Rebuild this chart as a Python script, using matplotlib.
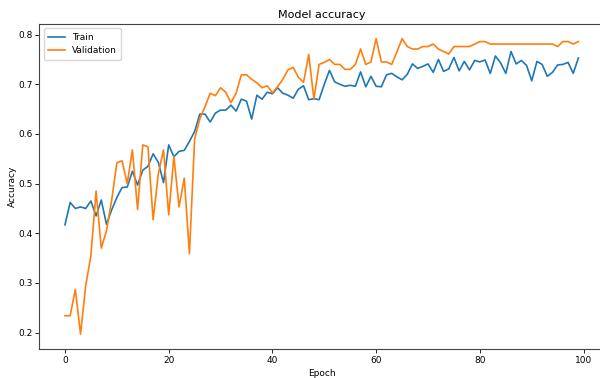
import matplotlib
matplotlib.use("Agg")
import matplotlib.pyplot as plt
from matplotlib import font_manager

epochs = list(range(100))
train_acc = [
    0.417, 0.462, 0.450, 0.453, 0.450, 0.465, 0.435, 0.467, 0.418, 0.447,
    0.472, 0.492, 0.493, 0.525, 0.497, 0.527, 0.535, 0.560, 0.543, 0.502,
    0.578, 0.554, 0.565, 0.567, 0.585, 0.605, 0.640, 0.640, 0.624, 0.642,
    0.648, 0.648, 0.658, 0.646, 0.670, 0.666, 0.630, 0.678, 0.670, 0.684,
    0.681, 0.693, 0.682, 0.678, 0.672, 0.690, 0.697, 0.669, 0.671, 0.669,
    0.700, 0.728, 0.705, 0.700, 0.696, 0.698, 0.696, 0.725, 0.695, 0.716,
    0.696, 0.695, 0.719, 0.722, 0.715, 0.709, 0.720, 0.741, 0.732, 0.736,
    0.741, 0.724, 0.750, 0.726, 0.731, 0.754, 0.727, 0.746, 0.729, 0.748,
    0.745, 0.749, 0.722, 0.757, 0.743, 0.722, 0.766, 0.741, 0.748, 0.738,
    0.707, 0.746, 0.740, 0.716, 0.724, 0.739, 0.740, 0.744, 0.722, 0.753,
]
val_acc = [
    0.234, 0.234, 0.287, 0.197, 0.295, 0.355, 0.485, 0.370, 0.405, 0.466,
    0.542, 0.546, 0.500, 0.568, 0.448, 0.578, 0.574, 0.427, 0.520, 0.568,
    0.437, 0.555, 0.453, 0.511, 0.359, 0.590, 0.630, 0.655, 0.682, 0.677,
    0.693, 0.684, 0.663, 0.682, 0.719, 0.719, 0.710, 0.703, 0.693, 0.697,
    0.683, 0.695, 0.710, 0.729, 0.734, 0.714, 0.704, 0.760, 0.670, 0.740,
    0.744, 0.750, 0.740, 0.740, 0.730, 0.730, 0.740, 0.771, 0.740, 0.745,
    0.792, 0.745, 0.745, 0.740, 0.765, 0.792, 0.776, 0.771, 0.771, 0.776,
    0.776, 0.781, 0.771, 0.766, 0.761, 0.776, 0.776, 0.776, 0.776, 0.781,
    0.786, 0.786, 0.781, 0.781, 0.781, 0.781, 0.781, 0.781, 0.781, 0.781,
    0.781, 0.781, 0.781, 0.781, 0.781, 0.776, 0.786, 0.786, 0.781, 0.786,
]
series_labels = ["Train", "Validation"]
title = "Model accuracy"
xlabel = "Epoch"
ylabel = "Accuracy"

available = {f.name for f in font_manager.fontManager.ttflist}
for cand in ["Liberation Sans Narrow", "DejaVu Sans Condensed"]:
    if cand in available:
        plt.rcParams["font.family"] = [cand, "DejaVu Sans"]
        break

fig = plt.figure(figsize=(6.0, 3.78), dpi=100)
ax = fig.add_axes([0.0655, 0.077, 0.9413, 0.86])
ax.plot(epochs, train_acc, color="#1f77b4", linewidth=1.2, label=series_labels[0])
ax.plot(epochs, val_acc, color="#ff7f0e", linewidth=1.2, label=series_labels[1])
ax.set_xlim(-4.95, 103.95)
ax.set_title(title, fontsize=8, pad=4)
ax.set_xlabel(xlabel, fontsize=6.5, labelpad=3)
ax.set_ylabel(ylabel, fontsize=6.5, labelpad=1)
ax.tick_params(labelsize=6.5, length=3, width=0.6, pad=2)
ax.set_xticks([0, 20, 40, 60, 80, 100])
ax.set_yticks([0.2, 0.3, 0.4, 0.5, 0.6, 0.7, 0.8])
for s in ax.spines.values():
    s.set_linewidth(0.8)
    s.set_color("#444444")
ax.spines["right"].set_visible(False)
ax.legend(loc="upper left", fontsize=6.5, handlelength=1.8, borderpad=0.5,
          labelspacing=0.5, framealpha=0.8)
fig.savefig("out.png", dpi=100)
